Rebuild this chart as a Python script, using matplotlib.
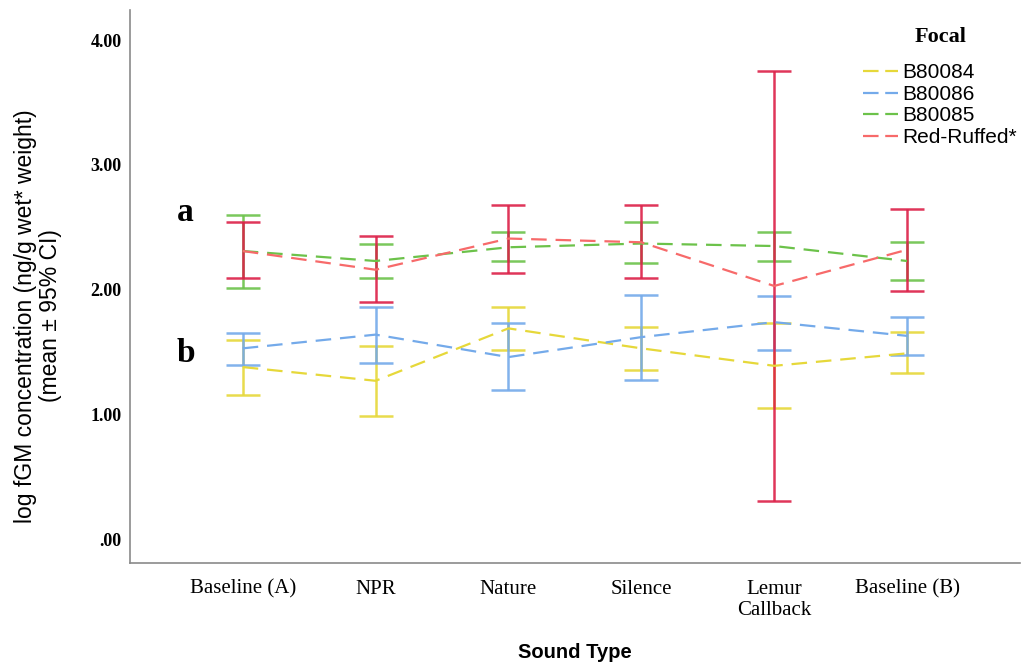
import matplotlib
matplotlib.use("Agg")
import matplotlib.pyplot as plt
from matplotlib.lines import Line2D
import numpy as np

categories = ["Baseline (A)", "NPR", "Nature", "Silence", "Lemur\nCallback", "Baseline (B)"]
series_names = ["B80084", "B80086", "B80085", "Red-Ruffed*"]

mean_b80084 = [1.38, 1.27, 1.69, 1.53, 1.39, 1.49]
low_b80084 = [1.16, 0.99, 1.52, 1.36, 1.05, 1.33]
high_b80084 = [1.60, 1.55, 1.86, 1.70, 1.73, 1.66]

mean_b80086 = [1.53, 1.64, 1.46, 1.62, 1.74, 1.63]
low_b80086 = [1.40, 1.41, 1.20, 1.28, 1.52, 1.48]
high_b80086 = [1.65, 1.86, 1.73, 1.96, 1.95, 1.78]

mean_b80085 = [2.31, 2.23, 2.34, 2.37, 2.35, 2.23]
low_b80085 = [2.01, 2.09, 2.23, 2.21, 2.23, 2.08]
high_b80085 = [2.60, 2.37, 2.46, 2.54, 2.46, 2.38]

mean_red = [2.31, 2.16, 2.41, 2.38, 2.03, 2.32]
low_red = [2.09, 1.90, 2.13, 2.09, 0.31, 1.99]
high_red = [2.54, 2.43, 2.68, 2.68, 3.75, 2.65]

yticks = [0, 1, 2, 3, 4]
ytick_labels = [".00", "1.00", "2.00", "3.00", "4.00"]

line_colors = ["#e6d83a", "#74aaea", "#6cc24a", "#f76a6a"]
bar_colors = ["#e6d83a", "#74aaea", "#6cc24a", "#dc2048"]

means = [mean_b80084, mean_b80086, mean_b80085, mean_red]
lows = [low_b80084, low_b80086, low_b80085, low_red]
highs = [high_b80084, high_b80086, high_b80085, high_red]

fig = plt.figure(figsize=(10.22, 6.66), dpi=100)
ax = fig.add_axes([0.127, 0.1547, 0.871, 0.83])

x = np.arange(len(categories))
for m, lo, hi, lc, bc in zip(means, lows, highs, line_colors, bar_colors):
    m = np.array(m); lo = np.array(lo); hi = np.array(hi)
    ax.errorbar(x, m, yerr=[m - lo, hi - m], fmt="none", ecolor=bc,
                elinewidth=1.8, capsize=12, capthick=1.8, alpha=0.9, zorder=2)
for m, lc in zip(means, line_colors):
    ax.plot(x, m, color=lc, lw=1.6, dashes=(7, 4), zorder=3)

ax.set_xlim(-0.85, 5.85)
ax.set_ylim(-0.19, 4.24)
ax.set_xticks(x)
ax.set_xticklabels(categories, family="Liberation Serif", fontsize=15, linespacing=1.2)
ax.set_yticks(yticks)
ax.set_yticklabels(ytick_labels, family="Liberation Serif", fontsize=13, fontweight="bold")
ax.tick_params(axis="y", length=0, pad=6)
ax.tick_params(axis="x", length=0, pad=12)
for s in ["top", "right"]:
    ax.spines[s].set_visible(False)
for s in ["left", "bottom"]:
    ax.spines[s].set_color("#8a8a8a")
    ax.spines[s].set_linewidth(1.2)

ax.set_xlabel("Sound Type", family="Liberation Sans", fontsize=14.5, fontweight="bold", labelpad=16)
ax.set_ylabel("log fGM concentration (ng/g wet* weight)\n(mean \u00b1 95% CI)",
              family="Liberation Sans", fontsize=16.5, linespacing=1.08)
ax.yaxis.set_label_coords(-0.0764, 0.447)

ax.text(-0.43, 2.62, "a", family="Liberation Serif", fontsize=24, fontweight="bold",
        ha="center", va="center")
ax.text(-0.43, 1.49, "b", family="Liberation Serif", fontsize=24, fontweight="bold",
        ha="center", va="center")

handles = [Line2D([0], [0], color=c, lw=1.6, dashes=(7, 3)) for c in line_colors]
leg = ax.legend(handles, series_names, title="Focal", loc="upper right",
                bbox_to_anchor=(1.018, 1.004), frameon=False,
                prop={"family": "Liberation Sans", "size": 15},
                handlelength=1.7, handletextpad=0.2, labelspacing=0.12)
leg.get_title().set_fontfamily("Liberation Serif")
leg.get_title().set_fontweight("bold")
leg.get_title().set_fontsize(16)
leg._legend_box.sep = 12

fig.savefig("out.png", dpi=100)
